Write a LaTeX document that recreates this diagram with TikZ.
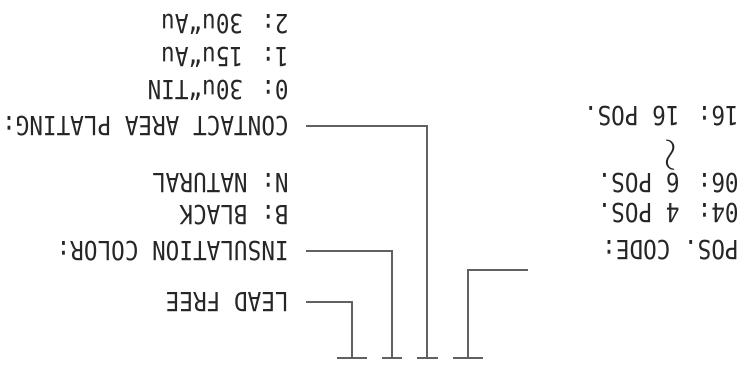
\documentclass[tikz,border=0pt]{standalone}
\usepackage{fontspec}
\newfontfamily\drawingfont[FakeStretch=0.86]{DejaVu Sans Mono}
\usepackage{tikz}
\usetikzlibrary{calc}
\tikzset{
  codelabel/.style={font={\drawingfont\fontsize{15}{18}\selectfont},text=black!85,
    inner sep=0pt,anchor=west},
  rangemark/.style={font={\fontsize{17}{19}\selectfont},text=black!85,inner sep=0pt},
  leaderline/.style={draw=black!62,line width=0.7pt},
  teebar/.style={draw=black!62,line width=0.7pt}
}

\begin{document}
\begin{tikzpicture}[x=0.02cm,y=0.02cm,rotate=180,transform shape]
  \useasboundingbox (0,0) rectangle (742,366);
  % 料号各段下方的定位点和短横
  \coordinate (tpos) at (274,358);
  \coordinate (tplate) at (315,358);
  \coordinate (tcolor) at (350,358);
  \coordinate (tlead) at (390,358);
  \draw[teebar] ($(tpos)+(-15,0)$) -- ($(tpos)+(15,0)$);
  \draw[teebar] ($(tplate)+(-10.5,0)$) -- ($(tplate)+(10.5,0)$);
  \draw[teebar] ($(tcolor)+(-10,0)$) -- ($(tcolor)+(10,0)$);
  \draw[teebar] ($(tlead)+(-15,0)$) -- ($(tlead)+(15,0)$);

  % 左侧：位数代码
  \node[codelabel] (poscode) at (3,250) {POS. CODE:};
  \node[codelabel] (pos04) at (3,213) {04: 4 POS.};
  \node[codelabel] (pos06) at (3,183) {06: 6 POS.};
  \node[rangemark,rotate=90,xscale=1.5,yscale=1.2] (posrange) at (74,155) {$\sim$};
  \node[codelabel] (pos16) at (3,116) {16: 16 POS.};
  \coordinate (posend) at (214,270);
  \draw[leaderline] (tpos) |- (posend);

  % 右侧：电镀、颜色、无铅
  \node[codelabel] (leadfree) at (453,302) {LEAD FREE};
  \node[codelabel] (color) at (453,251) {INSULATION COLOR:};
  \node[codelabel] (black) at (453,215) {B: BLACK};
  \node[codelabel] (natural) at (453,183) {N: NATURAL};
  \node[codelabel] (plating) at (453,126) {CONTACT AREA PLATING:};
  \node[codelabel] (tin) at (453,90) {0: 30u“TIN};
  \node[codelabel] (gold15) at (453,57) {1: 15u“Au};
  \node[codelabel] (gold30) at (453,24) {2: 30u“Au};
  \draw[leaderline] (tlead) |- ($(leadfree.west)+(-17,0)$);
  \draw[leaderline] (tcolor) |- ($(color.west)+(-17,0)$);
  \draw[leaderline] (tplate) |- ($(plating.west)+(-17,0)$);
\end{tikzpicture}
\end{document}
